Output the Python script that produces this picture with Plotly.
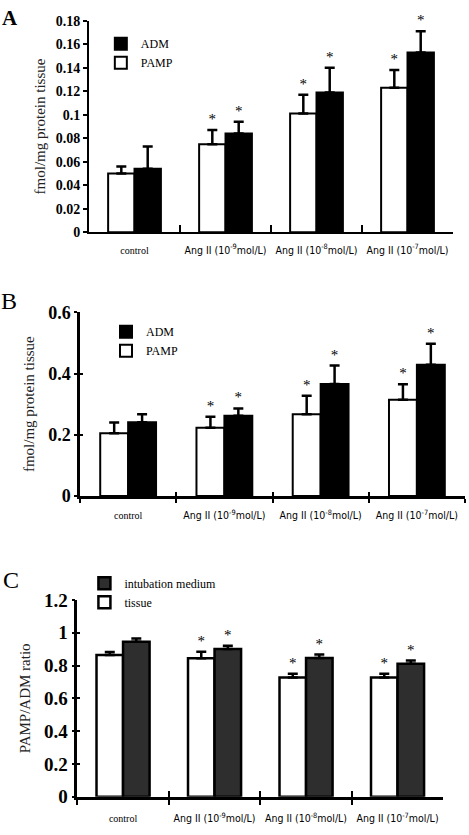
import plotly.graph_objects as go

# ---------------- data ----------------
categories = ["control", "Ang II 1e-9", "Ang II 1e-8", "Ang II 1e-7"]
tick_labels = [
    '<span style="font-family:Liberation Serif;font-size:10px">control</span>',
    "Ang II (10<sup>-9</sup>mol/L)",
    "Ang II (10<sup>-8</sup>mol/L)",
    "Ang II (10<sup>-7</sup>mol/L)",
]

# Panel A (fmol/mg protein tissue)
pamp_A = [0.050, 0.075, 0.101, 0.123]
pamp_A_err = [0.006, 0.012, 0.016, 0.015]
adm_A = [0.054, 0.084, 0.119, 0.153]
adm_A_err = [0.019, 0.010, 0.021, 0.018]
stars_A_pamp = ["", "*", "*", "*"]
stars_A_adm = ["", "*", "*", "*"]

# Panel B
pamp_B = [0.205, 0.223, 0.267, 0.314]
pamp_B_err = [0.035, 0.036, 0.060, 0.051]
adm_B = [0.241, 0.262, 0.366, 0.429]
adm_B_err = [0.026, 0.024, 0.060, 0.068]
stars_B_pamp = ["", "*", "*", "*"]
stars_B_adm = ["", "*", "*", "*"]

# Panel C (PAMP/ADM ratio)
tissue_C = [0.865, 0.845, 0.728, 0.728]
tissue_C_err = [0.018, 0.040, 0.022, 0.022]
medium_C = [0.946, 0.901, 0.847, 0.811]
medium_C_err = [0.020, 0.020, 0.020, 0.020]
stars_C_tissue = ["", "*", "*", "*"]
stars_C_medium = ["", "*", "*", "*"]

SERIF = "Liberation Serif, Times New Roman, serif"
NARROW = "Liberation Sans Narrow, Arial Narrow, DejaVu Sans Condensed, Liberation Sans, sans-serif"

fig = go.Figure()


def add_pair(vals_w, err_w, stars_w, name_w, vals_b, err_b, stars_b, name_b,
             fill_b, ax, legend, lw):
    xa, ya = ax
    zeros = [0] * len(categories)
    fig.add_trace(go.Bar(
        x=categories, y=vals_w, name=name_w, offsetgroup="w",
        marker=dict(color="white", line=dict(color="black", width=lw)),
        error_y=dict(type="data", array=err_w, arrayminus=zeros, symmetric=False,
                     color="black", thickness=2.5, width=5),
        xaxis=xa, yaxis=ya, legend=legend, legendrank=2))
    fig.add_trace(go.Bar(
        x=categories, y=vals_b, name=name_b, offsetgroup="b",
        marker=dict(color=fill_b, line=dict(color="black", width=lw)),
        error_y=dict(type="data", array=err_b, arrayminus=zeros, symmetric=False,
                     color="black", thickness=2.5, width=5),
        xaxis=xa, yaxis=ya, legend=legend, legendrank=1))
    # significance stars: transparent bars spanning the error range, text outside
    for vals, errs, stars, grp in ((vals_w, err_w, stars_w, "w"), (vals_b, err_b, stars_b, "b")):
        keep = [i for i, s in enumerate(stars) if s]
        fig.add_trace(go.Bar(
            x=[categories[i] for i in keep], y=[errs[i] for i in keep],
            base=[vals[i] for i in keep], offsetgroup=grp,
            marker=dict(color="rgba(0,0,0,0)", line=dict(width=0)),
            text=[stars[i] for i in keep], textposition="outside", cliponaxis=False,
            textfont=dict(family=SERIF, size=15, color="black"),
            outsidetextfont=dict(family=SERIF, size=15, color="black"),
            showlegend=False, hoverinfo="skip", xaxis=xa, yaxis=ya))


add_pair(pamp_A, pamp_A_err, stars_A_pamp, "PAMP", adm_A, adm_A_err, stars_A_adm, "ADM",
         "black", ("x", "y"), "legend", 2)
add_pair(pamp_B, pamp_B_err, stars_B_pamp, "PAMP", adm_B, adm_B_err, stars_B_adm, "ADM",
         "black", ("x2", "y2"), "legend2", 2)
add_pair(tissue_C, tissue_C_err, stars_C_tissue, "tissue", medium_C, medium_C_err,
         stars_C_medium, "intubation medium", "#2e2e2e", ("x3", "y3"), "legend3", 2.5)

# empty traces so that the overlay axes (inside half of crossing ticks) are drawn
for xa, ya in (("x4", "y4"), ("x5", "y5")):
    fig.add_trace(go.Scatter(x=[], y=[], xaxis=xa, yaxis=ya, showlegend=False,
                             hoverinfo="skip"))

n = len(categories)
boundaries = [i + 0.5 for i in range(n)]


def xax(domain, anchor, lw, ticks, tlen, standoff, fsize):
    return dict(domain=domain, anchor=anchor, type="category", automargin=False,
                categoryorder="array", categoryarray=categories,
                tickvals=categories, ticktext=tick_labels, tickson="boundaries",
                tickangle=0,
                showline=True, linecolor="black", linewidth=lw, ticks=ticks,
                ticklen=tlen, tickwidth=2, tickcolor="black", showgrid=False,
                zeroline=False, ticklabelstandoff=standoff,
                tickfont=dict(family=NARROW, size=fsize, color="black"))


def yax(domain, anchor, rng, dtick, lw, tlen, fsize, title, tsize, standoff):
    return dict(domain=domain, anchor=anchor, range=rng, dtick=dtick, automargin=False,
                showline=True, linecolor="black", linewidth=lw, ticks="outside",
                ticklen=tlen, tickwidth=2, tickcolor="black", showgrid=False,
                zeroline=False,
                tickfont=dict(family=SERIF, size=fsize, color="black", weight="bold"),
                title=dict(text=title, standoff=standoff,
                           font=dict(family=SERIF, size=tsize, color="#222")))


def overlay_x(over, anchor, tlen):
    return dict(overlaying=over, anchor=anchor, type="linear", range=[-0.5, n - 0.5],
                automargin=False,
                tickmode="array", tickvals=boundaries, ticks="inside", ticklen=tlen,
                tickwidth=2, tickcolor="black", showticklabels=False, showline=False,
                showgrid=False, zeroline=False)


def overlay_y(over, anchor, rng, dtick, tlen):
    return dict(overlaying=over, anchor=anchor, range=rng, dtick=dtick, ticks="inside",
                automargin=False,
                ticklen=tlen, tickwidth=2, tickcolor="black", showticklabels=False,
                showline=False, showgrid=False, zeroline=False)


legend_common = dict(bgcolor="rgba(0,0,0,0)", borderwidth=0, xanchor="left",
                     yanchor="top", itemclick=False, itemdoubleclick=False,
                     tracegroupgap=0)

fig.update_layout(
    width=469, height=835,
    margin=dict(l=0, r=0, t=0, b=0, autoexpand=False),
    paper_bgcolor="white", plot_bgcolor="white",
    barmode="group", bargap=0.42, bargroupgap=0,
    showlegend=True,
    xaxis=xax([0.1898, 0.9659], "y", 2, "inside", 7, 7, 10.5),
    yaxis=yax([0.7218, 0.9752], "x", [0, 0.18], 0.02, 2, 4, 14,
              "fmol/mg protein tissue", 15, 6),
    xaxis2=xax([0.1706, 0.9915], "y2", 2.5, "outside", 4, 8, 10.5),
    yaxis2=yax([0.4060, 0.6260], "x2", [0, 0.6], 0.2, 2.5, 3, 18,
               "fmol/mg protein tissue", 15, 10),
    xaxis3=xax([0.1648, 0.9452], "y3", 2.5, "outside", 6, 10, 10.5),
    yaxis3=yax([0.0459, 0.2814], "x3", [0, 1.2], 0.2, 2.5, 3, 19,
               "PAMP/ADM ratio", 15, 10),
    xaxis4=overlay_x("x2", "y2", 4),
    yaxis4=overlay_y("y2", "x2", [0, 0.6], 0.2, 3),
    xaxis5=overlay_x("x3", "y3", 6),
    yaxis5=overlay_y("y3", "x3", [0, 1.2], 0.2, 3),
    legend=dict(x=0.215, y=0.965, font=dict(family=SERIF, size=12, color="black"),
                **legend_common),
    legend2=dict(x=0.226, y=0.620, font=dict(family=SERIF, size=12, color="black"),
                 **legend_common),
    legend3=dict(x=0.18, y=0.319, font=dict(family=SERIF, size=12, color="black"),
                 **legend_common),
    annotations=[
        dict(text="<b>A</b>", x=0.022, y=0.979, xref="paper", yref="paper",
             xanchor="center", yanchor="middle",
             showarrow=False, font=dict(family=SERIF, size=21, color="black")),
        dict(text="B", x=0.02, y=0.639, xref="paper", yref="paper",
             xanchor="center", yanchor="middle",
             showarrow=False, font=dict(family=SERIF, size=24, color="black")),
        dict(text="C", x=0.024, y=0.305, xref="paper", yref="paper",
             xanchor="center", yanchor="middle",
             showarrow=False, font=dict(family=SERIF, size=24, color="black")),
    ],
)

fig.write_html("out.html", config={"displayModeBar": False},
               post_script="document.body.style.margin='0px';document.body.style.overflow='hidden';")
